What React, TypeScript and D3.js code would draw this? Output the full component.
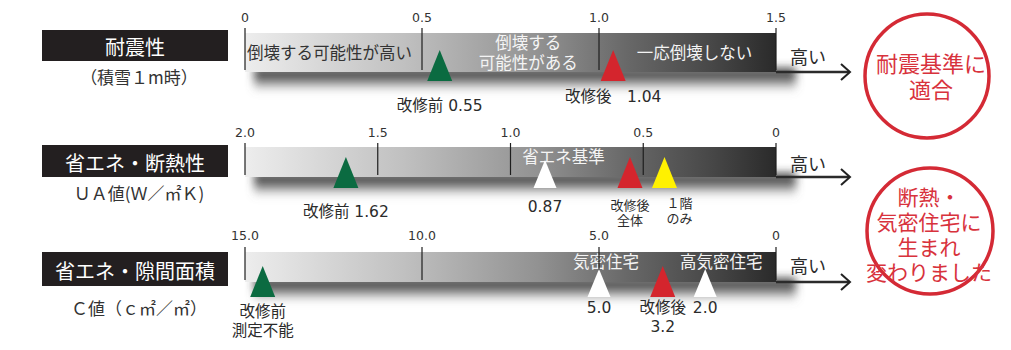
import React from 'react';
import { scaleLinear } from 'd3';

// row titles / subtitles
const rowTitles = ['耐震性', '省エネ・断熱性', '省エネ・隙間面積'];
const rowSubtitles = ['（積雪１m時）', 'ＵＡ値(Ｗ／㎡Ｋ)', 'Ｃ値（ｃ㎡／㎡）'];

// axis domains (left end, right end) and tick labels
const seismicDomain = [0, 1.5];
const uaDomain = [2.0, 0];
const cDomain = [15.0, 0];
const seismicTicks = [0, 0.5, 1.0, 1.5];
const seismicTickLabels = ['0', '0.5', '1.0', '1.5'];
const uaTicks = [2.0, 1.5, 1.0, 0.5, 0];
const uaTickLabels = ['2.0', '1.5', '1.0', '0.5', '0'];
const cTicks = [15.0, 10.0, 5.0, 0];
const cTickLabels = ['15.0', '10.0', '5.0', '0'];

// zone captions inside the bars (value = centre of caption on the axis)
const seismicZones = [
  { value: 0, lines: ['倒壊する可能性が高い'] },
  { value: 0.8, lines: ['倒壊する', '可能性がある'] },
  { value: 1.27, lines: ['一応倒壊しない'] },
];
const uaZones = [{ value: 0.8, lines: ['省エネ基準'] }];
const cZones = [
  { value: 4.8, lines: ['気密住宅'] },
  { value: 1.55, lines: ['高気密住宅'] },
];

// markers
const seismicMarkers = [
  { value: 0.55, kind: 'before', label: ['改修前 0.55'] },
  { value: 1.04, kind: 'after', label: ['改修後　1.04'] },
];
const uaMarkers = [
  { value: 1.62, kind: 'before', label: ['改修前 1.62'] },
  { value: 0.87, kind: 'standard', label: ['0.87'] },
  { value: 0.55, kind: 'after', label: ['改修後', '全体'] },
  { value: 0.42, kind: 'partial', label: ['１階', 'のみ'] },
];
const cMarkers = [
  { value: 14.5, kind: 'before', label: ['改修前', '測定不能'] },
  { value: 5.0, kind: 'standard', label: ['5.0'] },
  { value: 3.2, kind: 'after', label: ['改修後', '3.2'] },
  { value: 2.0, kind: 'standard', label: ['2.0'] },
];

const stampLines1 = ['耐震基準に', '適合'];
const stampLines2 = ['断熱・', '気密住宅に', '生まれ', '変わりました'];

const FONT = "'Noto Sans CJK JP', 'Noto Sans', sans-serif";
const NUM_FONT = "'DejaVu Sans', 'Noto Sans CJK JP', sans-serif";
const markerColor = {
  before: '#0b6b41',
  after: '#d4252d',
  standard: '#ffffff',
  partial: '#fff100',
};
const RED = '#d42a35';

const X0 = 245;
const X1 = 776;

// vertical layout of each row
const rows = [
  {
    domain: seismicDomain, ticks: seismicTicks, tickLabels: seismicTickLabels,
    zones: seismicZones, markers: seismicMarkers,
    tickY: 17, tickTop: 28, barTop: 33, barBottom: 72, triBase: 81,
    boxTop: 30, boxBottom: 61, subY: 76, highY: 56,
    labelY: [106, 97], labelSize: [15.5, 15.5],
  },
  {
    domain: uaDomain, ticks: uaTicks, tickLabels: uaTickLabels,
    zones: uaZones, markers: uaMarkers,
    tickY: 132, tickTop: 143, barTop: 147, barBottom: 177, triBase: 188,
    boxTop: 145, boxBottom: 177, subY: 192, highY: 163,
    labelY: [212, 207, 205, 203], labelSize: [15.5, 15.5, 13, 13],
  },
  {
    domain: cDomain, ticks: cTicks, tickLabels: cTickLabels,
    zones: cZones, markers: cMarkers,
    tickY: 235, tickTop: 247, barTop: 252, barBottom: 282, triBase: 297,
    boxTop: 252, boxBottom: 286, subY: 307, highY: 265,
    labelY: [312, 308, 308, 308], labelSize: [15.5, 15.5, 15.5, 15.5],
  },
];

const App = () => {
  return (
    <svg
      width={1011}
      height={350}
      style={{ position: 'absolute', left: 0, top: 0, background: '#fff' }}
      fontFamily={FONT}
    >
      <defs>
        <linearGradient id="barGrad" x1="0" x2="1" y1="0" y2="0">
          <stop offset="0%" stopColor="#ededed" />
          <stop offset="30%" stopColor="#c0c0c0" />
          <stop offset="55%" stopColor="#929292" />
          <stop offset="72%" stopColor="#686868" />
          <stop offset="88%" stopColor="#474747" />
          <stop offset="100%" stopColor="#2a2a2a" />
        </linearGradient>
        <linearGradient id="lineGrad" x1="0" x2="1" y1="0" y2="0">
          <stop offset="0%" stopColor="#e2e2e2" />
          <stop offset="50%" stopColor="#a8a8a8" />
          <stop offset="100%" stopColor="#5a5a5a" />
        </linearGradient>
        <linearGradient id="shadowGrad" x1="0" x2="0" y1="0" y2="1">
          <stop offset="0%" stopColor="#2a2a2a" stopOpacity={0.95} />
          <stop offset="45%" stopColor="#3a3a3a" stopOpacity={0.75} />
          <stop offset="100%" stopColor="#888" stopOpacity={0} />
        </linearGradient>
        <filter id="blur" x="-10%" y="-50%" width="120%" height="200%">
          <feGaussianBlur stdDeviation="4" />
        </filter>
      </defs>

      {rows.map((r, ri) => {
        const x = scaleLinear().domain(r.domain).range([X0, X1]);
        const boxMid = (r.boxTop + r.boxBottom) / 2;
        return (
          <g key={ri}>
            {/* title box */}
            <rect x={42} y={r.boxTop} width={186} height={r.boxBottom - r.boxTop} fill="#231f20" />
            <text x={135} y={boxMid + 1} fill="#fff" fontSize={20} textAnchor="middle" dominantBaseline="central">
              {rowTitles[ri]}
            </text>
            <text x={139} y={r.subY} fill="#333" fontSize={17} textAnchor="middle" dominantBaseline="central">
              {rowSubtitles[ri]}
            </text>

            {/* shadow */}
            <rect
              x={254}
              y={r.barBottom - 4}
              width={542}
              height={24}
              fill="url(#shadowGrad)"
              filter="url(#blur)"
            />
            {/* bar */}
            <rect x={X0} y={r.barTop} width={X1 - X0} height={r.barBottom - r.barTop} fill="url(#barGrad)" />

            {/* axis line with arrow */}
            <line x1={X0} x2={X1} y1={r.barBottom} y2={r.barBottom} stroke="url(#lineGrad)" strokeWidth={3} />
            <line x1={X1} x2={849} y1={r.barBottom} y2={r.barBottom} stroke="#2b2b2b" strokeWidth={2.5} />
            <polyline
              points={`841,${r.barBottom - 8} 850,${r.barBottom} 841,${r.barBottom + 8}`}
              fill="none"
              stroke="#222"
              strokeWidth={2}
            />
            <text x={790} y={r.highY} fill="#2b2b2b" fontSize={18} dominantBaseline="central">
              高い
            </text>

            {/* zones */}
            {r.zones.map((z, zi) => {
              const first = ri === 0 && zi === 0;
              const lh = 20;
              const mid = (r.barTop + r.barBottom) / 2 - (ri === 0 ? 1 : 6);
              return z.lines.map((ln, li) => (
                <text
                  key={`${zi}-${li}`}
                  x={first ? x(z.value) + 2 : x(z.value)}
                  y={mid + (li - (z.lines.length - 1) / 2) * lh}
                  fill={first ? '#333' : '#f4f4f4'}
                  fontSize={16.5}
                  textAnchor={first ? 'start' : 'middle'}
                  dominantBaseline="central"
                >
                  {ln}
                </text>
              ));
            })}

            {/* ticks */}
            {r.ticks.map((t, ti) => (
              <g key={ti}>
                <line x1={x(t)} x2={x(t)} y1={r.tickTop} y2={r.barBottom - 2} stroke="#1e1e1e" strokeWidth={1.2} />
                <text
                  x={x(t)}
                  y={r.tickY}
                  fill="#333"
                  fontSize={12.5}
                  fontFamily={NUM_FONT}
                  textAnchor="middle"
                  dominantBaseline="central"
                >
                  {r.tickLabels[ti]}
                </text>
              </g>
            ))}

            {/* markers */}
            {r.markers.map((m, mi) => {
              const cx = x(m.value);
              const white = m.kind === 'standard';
              const hw = white ? 11.5 : 12.5;
              const h = white ? 28 : 31;
              const fs = r.labelSize[mi];
              const start = m.kind === 'partial';
              return (
                <g key={mi}>
                  <polygon
                    points={`${cx - hw},${r.triBase} ${cx + hw},${r.triBase} ${cx},${r.triBase - h}`}
                    fill={markerColor[m.kind]}
                  />
                  {m.label.map((ln, li) => (
                    <text
                      key={li}
                      x={start ? cx + 2 : cx}
                      y={r.labelY[mi] + li * (fs * 1.22)}
                      fill="#2b2b2b"
                      fontSize={fs}
                      fontFamily={NUM_FONT}
                      textAnchor={start ? 'start' : 'middle'}
                      dominantBaseline="central"
                    >
                      {ln}
                    </text>
                  ))}
                </g>
              );
            })}
          </g>
        );
      })}

      {/* stamps */}
      <circle cx={927} cy={76} r={62} fill="none" stroke={RED} strokeWidth={3.5} />
      {stampLines1.map((ln, i) => (
        <text key={i} x={931} y={62 + i * 26} fill="#d8323c" fontSize={22} textAnchor="middle" dominantBaseline="central">
          {ln}
        </text>
      ))}
      <circle cx={930} cy={231} r={63} fill="none" stroke={RED} strokeWidth={3.5} />
      {stampLines2.map((ln, i) => (
        <text key={i} x={929} y={196 + i * 25} fill="#d8323c" fontSize={21} textAnchor="middle" dominantBaseline="central">
          {ln}
        </text>
      ))}
    </svg>
  );
};

export default App;
